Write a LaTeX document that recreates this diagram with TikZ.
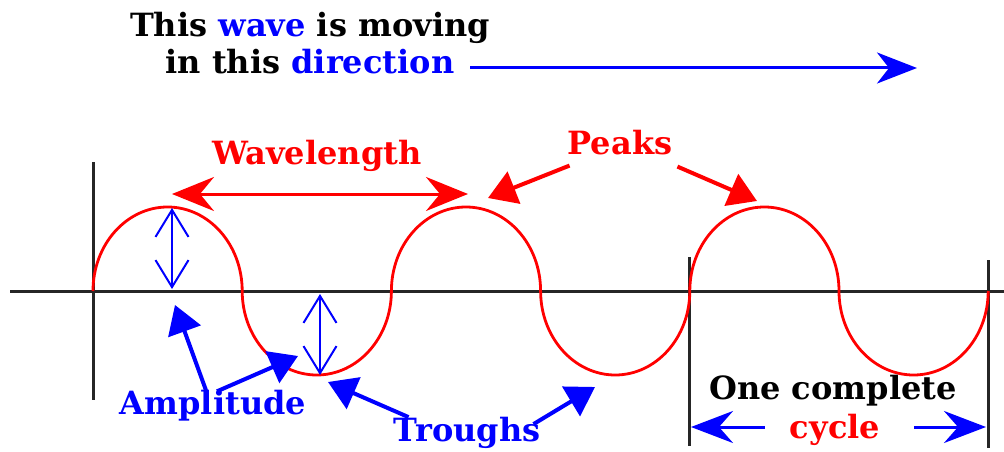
\documentclass[tikz,border=0pt]{standalone}
\usepackage{fontspec}
\setmainfont{DejaVu Serif}
\usetikzlibrary{arrows.meta}
\definecolor{wred}{RGB}{255,0,0}
\definecolor{wblue}{RGB}{0,0,255}

\begin{document}
\begin{tikzpicture}[x=1pt, y=-1pt,
    lbl/.style={font=\fontsize{32}{37}\selectfont\bfseries, inner sep=0pt, align=center},
    axisline/.style={line width=3pt, black!85},
    wave/.style={line width=2.8pt, wred},
    ampl/.style={wblue, line width=2pt,
      {Straight Barb[length=27pt,width=33pt,line width=2pt]}-{Straight Barb[length=27pt,width=33pt,line width=2pt]}},
    pnt/.style={line width=4pt, -{Triangle[length=28pt,width=34pt]}},
    span/.style={line width=3pt, {Stealth[length=42pt,width=34pt,inset=14pt]}-{Stealth[length=42pt,width=34pt,inset=14pt]}},
    oneway/.style={line width=3pt, -{Stealth[length=42pt,width=32pt,inset=14pt]}},
  ]
  \useasboundingbox (0,0) rectangle (1004,452);

  % axes and cycle markers
  \coordinate (left) at (10,291);
  \coordinate (right) at (1004,291);
  \coordinate (c0) at (93,291);
  \coordinate (c1) at (689,291);
  \coordinate (c2) at (988,291);
  \draw[axisline] (left) -- (right);
  \draw[axisline] (93,162) -- (93,400);
  \draw[axisline] (689,257) -- (689,446);
  \draw[axisline] (988,260) -- (988,448);

  % the wave, one semi-ellipse per half period
  \draw[wave] (c0)
    arc[start angle=180, end angle=360, x radius=74.6, y radius=84]
    arc[start angle=180, end angle=0, x radius=74.6, y radius=84]
    arc[start angle=180, end angle=360, x radius=74.6, y radius=84]
    arc[start angle=180, end angle=0, x radius=74.6, y radius=84]
    arc[start angle=180, end angle=360, x radius=74.6, y radius=84]
    arc[start angle=180, end angle=0, x radius=74.6, y radius=84];

  % heading and direction of travel
  \node[lbl] (head) at (310,43)
    {This \textcolor{wblue}{wave} is moving\\in this \textcolor{wblue}{direction}};
  \coordinate (dirA) at (470,68);
  \coordinate (dirB) at (917,68);
  \draw[oneway, wblue, -{Stealth[length=40pt,width=31pt,inset=12pt]}] (dirA) -- (dirB);

  % wavelength between two peaks
  \node[lbl, wred] (wl) at (317,156) {Wavelength};
  \coordinate (pk1) at (172,194);
  \coordinate (pk2) at (468,194);
  \draw[span, wred] (pk1) -- (pk2);

  % peaks
  \node[lbl, wred] (peaks) at (620,143) {Peaks};
  \coordinate (pkA) at (488,198);
  \coordinate (pkB) at (757,201);
  \draw[pnt, wred] ([shift={(2,10)}]peaks.south west) -- (pkA);
  \draw[pnt, wred] ([shift={(5,11)}]peaks.south east) -- (pkB);

  % amplitude markers
  \coordinate (a1top) at (172,208);
  \coordinate (a1bot) at (172,289);
  \coordinate (a2top) at (320,294);
  \coordinate (a2bot) at (320,375);
  \draw[ampl] (a1top) -- (a1bot);
  \draw[ampl] (a2top) -- (a2bot);

  \node[lbl, wblue] (amp) at (213,406) {Amplitude};
  \coordinate (ampA) at (175,305);
  \coordinate (ampB) at (298,356);
  \draw[pnt, wblue] ([shift={(-7,0)}]amp.north) -- (ampA);
  \draw[pnt, wblue] ([shift={(4,1)}]amp.north) -- (ampB);

  % troughs
  \node[lbl, wblue] (tr) at (467,433) {Troughs};
  \coordinate (trA) at (328,382);
  \coordinate (trB) at (595,387);
  \draw[pnt, wblue] ([shift={(15,0)}]tr.north west) -- (trA);
  \draw[pnt, wblue] ([shift={(-7,7)}]tr.north east) -- (trB);

  % one complete cycle
  \node[lbl] (one) at (833,391) {One complete};
  \node[lbl, wred] (cyc) at (835,430) {cycle};
  \coordinate (cyA) at (691,427);
  \coordinate (cyB) at (986,427);
  \draw[oneway, wblue] ([xshift=-25pt]cyc.west |- cyA) -- (cyA);
  \draw[oneway, wblue] ([xshift=34pt]cyc.east |- cyB) -- (cyB);
\end{tikzpicture}
\end{document}
